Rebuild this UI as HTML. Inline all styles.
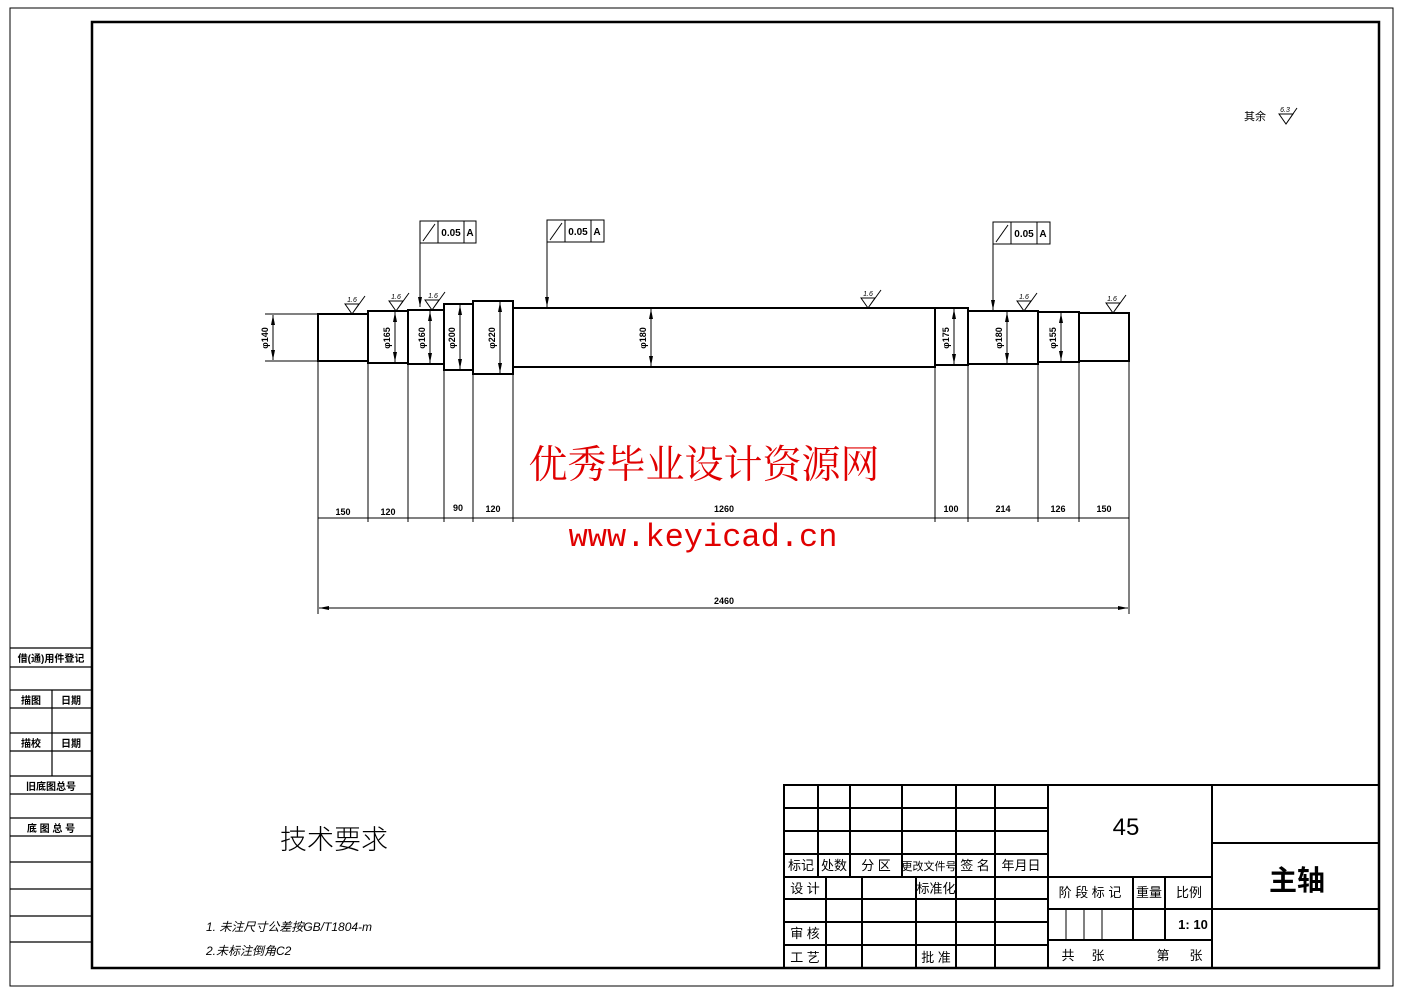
<!DOCTYPE html>
<html><head><meta charset="utf-8"><style>
html,body{margin:0;padding:0;background:#fff;}
svg{display:block;}
text{font-family:"Liberation Sans","Noto Sans CJK SC",sans-serif;fill:#000;}
</style></head><body>
<svg width="1403" height="992" viewBox="0 0 1403 992" xmlns="http://www.w3.org/2000/svg">
<defs>
<marker id="a" viewBox="0 0 10 4" refX="10" refY="2" markerWidth="10" markerHeight="4" orient="auto-start-reverse" markerUnits="userSpaceOnUse"><path d="M0,0L10,2L0,4z" fill="#000"/></marker>
</defs>
<rect x="10" y="8" width="1383" height="978" fill="none" stroke="#000" stroke-width="1"/>
<rect x="92" y="22" width="1287" height="946" fill="none" stroke="#000" stroke-width="2.5"/>

<g stroke="#000" stroke-width="1.2" fill="none">
<line x1="10" y1="648" x2="92" y2="648"/><line x1="10" y1="667" x2="92" y2="667"/>
<line x1="10" y1="690" x2="92" y2="690"/><line x1="10" y1="708" x2="92" y2="708"/>
<line x1="10" y1="733" x2="92" y2="733"/><line x1="10" y1="751" x2="92" y2="751"/>
<line x1="10" y1="776" x2="92" y2="776"/><line x1="10" y1="794" x2="92" y2="794"/>
<line x1="10" y1="818" x2="92" y2="818"/><line x1="10" y1="836" x2="92" y2="836"/>
<line x1="10" y1="862" x2="92" y2="862"/><line x1="10" y1="889" x2="92" y2="889"/>
<line x1="10" y1="916" x2="92" y2="916"/><line x1="10" y1="942" x2="92" y2="942"/>
<line x1="52" y1="690" x2="52" y2="776"/>
</g>
<g font-size="10" font-weight="bold" text-anchor="middle">
<text x="51" y="662">借(通)用件登记</text>
<text x="31" y="704">描图</text><text x="71" y="704">日期</text>
<text x="31" y="747">描校</text><text x="71" y="747">日期</text>
<text x="51" y="790">旧底图总号</text>
<text x="51" y="832">底 图 总 号</text>
</g>

<g stroke="#000" stroke-width="2" fill="none">
<rect x="318" y="314" width="50" height="47"/>
<rect x="368" y="311" width="40" height="52"/>
<rect x="408" y="310" width="36" height="54"/>
<rect x="444" y="304" width="29" height="66"/>
<rect x="473" y="301" width="40" height="73"/>
<rect x="513" y="308" width="422" height="59"/>
<rect x="935" y="308" width="33" height="57"/>
<rect x="968" y="311" width="70" height="53"/>
<rect x="1038" y="312" width="41" height="50"/>
<rect x="1079" y="313" width="50" height="48"/>
</g>
<g stroke="#000" stroke-width="1" fill="none">
<line x1="265" y1="314" x2="318" y2="314"/><line x1="265" y1="361" x2="318" y2="361"/>
<line x1="273" y1="315" x2="273" y2="360" marker-start="url(#a)" marker-end="url(#a)"/>
<line x1="395" y1="312" x2="395" y2="362" marker-start="url(#a)" marker-end="url(#a)"/>
<line x1="430" y1="311" x2="430" y2="363" marker-start="url(#a)" marker-end="url(#a)"/>
<line x1="460" y1="305" x2="460" y2="369" marker-start="url(#a)" marker-end="url(#a)"/>
<line x1="500" y1="302" x2="500" y2="373" marker-start="url(#a)" marker-end="url(#a)"/>
<line x1="651" y1="309" x2="651" y2="366" marker-start="url(#a)" marker-end="url(#a)"/>
<line x1="954" y1="309" x2="954" y2="364" marker-start="url(#a)" marker-end="url(#a)"/>
<line x1="1007" y1="312" x2="1007" y2="363" marker-start="url(#a)" marker-end="url(#a)"/>
<line x1="1061" y1="313" x2="1061" y2="361" marker-start="url(#a)" marker-end="url(#a)"/>
</g>
<g font-size="9" font-weight="bold" text-anchor="middle">
<text transform="translate(268,338) rotate(-90)">φ140</text>
<text transform="translate(390,338) rotate(-90)">φ165</text>
<text transform="translate(425,338) rotate(-90)">φ160</text>
<text transform="translate(455,338) rotate(-90)">φ200</text>
<text transform="translate(495,338) rotate(-90)">φ220</text>
<text transform="translate(646,338) rotate(-90)">φ180</text>
<text transform="translate(949,338) rotate(-90)">φ175</text>
<text transform="translate(1002,338) rotate(-90)">φ180</text>
<text transform="translate(1056,338) rotate(-90)">φ155</text>
</g>

<g stroke="#000" stroke-width="1">
<line x1="318" y1="361" x2="318" y2="614"/>
<line x1="368" y1="363" x2="368" y2="522"/>
<line x1="408" y1="364" x2="408" y2="522"/>
<line x1="444" y1="370" x2="444" y2="522"/>
<line x1="473" y1="374" x2="473" y2="522"/>
<line x1="513" y1="374" x2="513" y2="522"/>
<line x1="935" y1="367" x2="935" y2="522"/>
<line x1="968" y1="365" x2="968" y2="522"/>
<line x1="1038" y1="364" x2="1038" y2="522"/>
<line x1="1079" y1="362" x2="1079" y2="522"/>
<line x1="1129" y1="361" x2="1129" y2="614"/>
<line x1="318" y1="518" x2="1129" y2="518"/>
<line x1="319" y1="608" x2="1128" y2="608" marker-start="url(#a)" marker-end="url(#a)"/>
</g>
<g font-size="9" font-weight="bold" text-anchor="middle">
<text x="343" y="515">150</text><text x="388" y="515">120</text>
<text x="458" y="511">90</text><text x="493" y="512">120</text>
<text x="724" y="512">1260</text><text x="951" y="512">100</text>
<text x="1003" y="512">214</text><text x="1058" y="512">126</text>
<text x="1104" y="512">150</text><text x="724" y="604">2460</text>
</g>

<g stroke="#000" stroke-width="1" fill="none">
<rect x="420" y="221" width="56" height="22"/><line x1="438" y1="221" x2="438" y2="243"/><line x1="464" y1="221" x2="464" y2="243"/>
<line x1="423" y1="241" x2="435" y2="224"/>
<line x1="420" y1="243" x2="420" y2="307" marker-end="url(#a)"/>
<rect x="547" y="220" width="57" height="22"/><line x1="565" y1="220" x2="565" y2="242"/><line x1="591" y1="220" x2="591" y2="242"/>
<line x1="550" y1="240" x2="562" y2="223"/>
<line x1="547" y1="242" x2="547" y2="307" marker-end="url(#a)"/>
<rect x="993" y="222" width="57" height="22"/><line x1="1011" y1="222" x2="1011" y2="244"/><line x1="1037" y1="222" x2="1037" y2="244"/>
<line x1="996" y1="242" x2="1008" y2="225"/>
<line x1="993" y1="244" x2="993" y2="310" marker-end="url(#a)"/>
</g>
<g font-size="10" font-weight="bold" text-anchor="middle">
<text x="451" y="236">0.05</text><text x="470" y="236">A</text>
<text x="578" y="235">0.05</text><text x="597" y="235">A</text>
<text x="1024" y="237">0.05</text><text x="1043" y="237">A</text>
</g>

<g stroke="#000" stroke-width="1" fill="none">
<path d="M345,304 L352,314 L359,304 Z M352,314 L365,296"/>
<path d="M389,301 L396,311 L403,301 Z M396,311 L409,293"/>
<path d="M425,300 L432,310 L439,300 Z M432,310 L445,292"/>
<path d="M861,298 L868,308 L875,298 Z M868,308 L881,290"/>
<path d="M1017,301 L1024,311 L1031,301 Z M1024,311 L1037,293"/>
<path d="M1106,303 L1113,313 L1120,303 Z M1113,313 L1126,295"/>
<path d="M1279,114 L1286,124 L1293,114 Z M1286,124 L1297,108"/>
</g>
<g font-size="7" font-style="italic" text-anchor="middle">
<text x="352" y="302">1.6</text><text x="396" y="299">1.6</text><text x="433" y="298">1.6</text>
<text x="868" y="296">1.6</text><text x="1024" y="299">1.6</text><text x="1112" y="301">1.6</text>
<text x="1285" y="112">6.3</text>
</g>
<text x="1255" y="120" font-size="11" text-anchor="middle">其余</text>

<text x="704" y="478" font-size="39" text-anchor="middle" style="fill:#e00000;font-family:'Liberation Serif','Noto Serif CJK SC',serif">优秀毕业设计资源网</text>
<text x="703" y="546" font-size="32" text-anchor="middle" style="fill:#e00000;font-family:'Liberation Mono',monospace">www.keyicad.cn</text>

<text x="334" y="849" font-size="27" text-anchor="middle" style="font-family:'Noto Sans CJK SC',sans-serif;font-weight:300">技术要求</text>
<text x="206" y="931" font-size="12" font-style="italic">1. 未注尺寸公差按GB/T1804-m</text>
<text x="206" y="955" font-size="12" font-style="italic">2.未标注倒角C2</text>

<g stroke="#000" stroke-width="2" fill="none">
<rect x="784" y="785" width="595" height="183"/>
<line x1="784" y1="808" x2="1048" y2="808"/><line x1="784" y1="831" x2="1048" y2="831"/>
<line x1="784" y1="854" x2="1048" y2="854"/><line x1="784" y1="877" x2="1048" y2="877"/>
<line x1="784" y1="899" x2="1048" y2="899"/><line x1="784" y1="922" x2="1048" y2="922"/>
<line x1="784" y1="945" x2="1048" y2="945"/>
<line x1="818" y1="785" x2="818" y2="877"/><line x1="850" y1="785" x2="850" y2="877"/>
<line x1="902" y1="785" x2="902" y2="877"/><line x1="956" y1="785" x2="956" y2="968"/>
<line x1="995" y1="785" x2="995" y2="968"/><line x1="1048" y1="785" x2="1048" y2="968"/>
<line x1="826" y1="877" x2="826" y2="968"/><line x1="862" y1="877" x2="862" y2="968"/>
<line x1="916" y1="877" x2="916" y2="968"/>
<line x1="1048" y1="877" x2="1212" y2="877"/><line x1="1048" y1="909" x2="1212" y2="909"/>
<line x1="1048" y1="940" x2="1212" y2="940"/>
<line x1="1133" y1="877" x2="1133" y2="940"/><line x1="1165" y1="877" x2="1165" y2="940"/>
<line x1="1212" y1="785" x2="1212" y2="968"/>
<line x1="1212" y1="843" x2="1379" y2="843"/><line x1="1212" y1="909" x2="1379" y2="909"/>
</g>
<g stroke="#000" stroke-width="1"><line x1="1066" y1="909" x2="1066" y2="940"/><line x1="1084" y1="909" x2="1084" y2="940"/><line x1="1102" y1="909" x2="1102" y2="940"/></g>
<g font-size="13" text-anchor="middle">
<text x="801" y="870">标记</text><text x="834" y="870">处数</text><text x="876" y="870">分 区</text>
<text x="929" y="870" font-size="11">更改文件号</text><text x="975" y="870">签 名</text><text x="1021" y="870">年月日</text>
<text x="805" y="893">设 计</text><text x="936" y="893">标准化</text>
<text x="805" y="938">审 核</text><text x="805" y="962">工 艺</text><text x="936" y="962">批 准</text>
<text x="1090" y="897">阶 段 标 记</text><text x="1149" y="897">重量</text><text x="1189" y="897">比例</text>
<text x="1193" y="929" font-weight="bold">1: 10</text>
<text x="1068" y="960">共</text><text x="1098" y="960">张</text><text x="1163" y="960">第</text><text x="1196" y="960">张</text>
<text x="1126" y="835" font-size="24">45</text>
<text x="1297" y="890" font-size="28" font-weight="bold">主轴</text>
</g>
</svg>
</body></html>
